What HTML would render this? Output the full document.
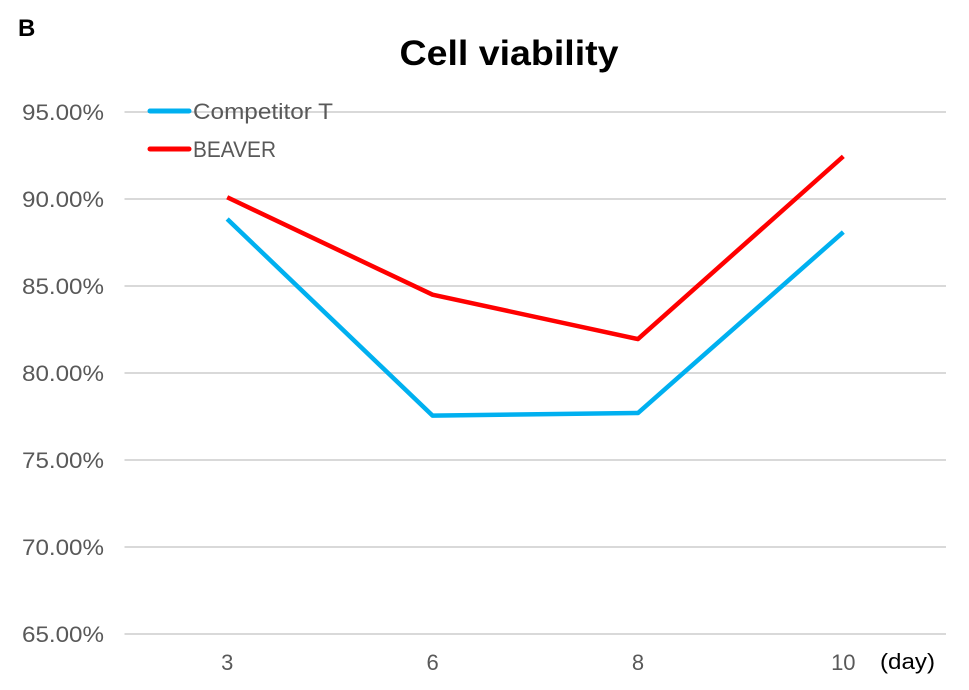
<!DOCTYPE html>
<html><head><meta charset="utf-8"><style>
body{margin:0;background:#fff;}
svg{display:block;font-family:"Liberation Sans",sans-serif;}
</style></head><body>
<svg id="chart" width="969" height="690" viewBox="0 0 969 690">
<text x="18" y="36" font-size="24" font-weight="bold" fill="#000">B</text>
<text x="509" y="65" text-anchor="middle" font-size="35" font-weight="bold" fill="#000" textLength="219" lengthAdjust="spacingAndGlyphs">Cell viability</text>
<g id="grid"></g>
<g id="yaxis"></g>
<g id="xaxis"></g>
<g id="series"></g>
<g>
<g>
<line x1="150" y1="111" x2="189" y2="111" stroke="#00B0F0" stroke-width="5" stroke-linecap="round"/>
<text x="193" y="119" font-size="22" fill="#595959" textLength="140" lengthAdjust="spacingAndGlyphs">Competitor T</text></g>
<g>
<line x1="150" y1="149" x2="189" y2="149" stroke="#FF0000" stroke-width="5" stroke-linecap="round"/>
<text x="193" y="157" font-size="22" fill="#595959" textLength="83" lengthAdjust="spacingAndGlyphs">BEAVER</text></g>
</g>
<text x="880" y="669" font-size="22" fill="#000" textLength="55" lengthAdjust="spacingAndGlyphs">(day)</text>
</svg>
<script>
const categories = ["3","6","8","10"];
const competitorT = [88.85, 77.55, 77.7, 88.1];
const beaver = [90.1, 84.5, 81.95, 92.45];
const yTicks = [65,70,75,80,85,90,95];
const yTickLabels = ["65.00%","70.00%","75.00%","80.00%","85.00%","90.00%","95.00%"];
const NS="http://www.w3.org/2000/svg";
const x0=124.5,x1=946,yMin=65,yMax=95,yTop=112,yBot=634;
const band=(x1-x0)/categories.length;
function xs(i){return x0+band*(i+0.5);}
function ys(v){return yBot-(v-yMin)/(yMax-yMin)*(yBot-yTop);}
function mk(t,a,p){const e=document.createElementNS(NS,t);for(const k in a)e.setAttribute(k,a[k]);p.appendChild(e);return e;}
const grid=document.getElementById('grid'),ya=document.getElementById('yaxis'),xa=document.getElementById('xaxis'),sr=document.getElementById('series');
yTicks.forEach((v,i)=>{
 const l=mk('line',{x1:x0,x2:x1,y1:ys(v),y2:ys(v),stroke:'#D9D9D9','stroke-width':2},grid);
 
 
 const t=mk('text',{x:104,y:ys(v)+8,'text-anchor':'end','font-size':22,fill:'#595959',textLength:82,lengthAdjust:'spacingAndGlyphs'},ya);
 t.textContent=yTickLabels[i];
 
 
});
categories.forEach((c,i)=>{
 const t=mk('text',{x:xs(i),y:670,'text-anchor':'middle','font-size':22,fill:'#595959'},xa);
 t.textContent=c;
 
 
});
function line(vals,color,name){
 const p=mk('polyline',{points:vals.map((v,i)=>xs(i)+','+ys(v)).join(' '),fill:'none',stroke:color,'stroke-width':4.5,'stroke-linejoin':'round'},sr);
 
 
}
line(competitorT,'#00B0F0','competitor-t-line');
line(beaver,'#FF0000','beaver-line');
</script>
</body></html>
